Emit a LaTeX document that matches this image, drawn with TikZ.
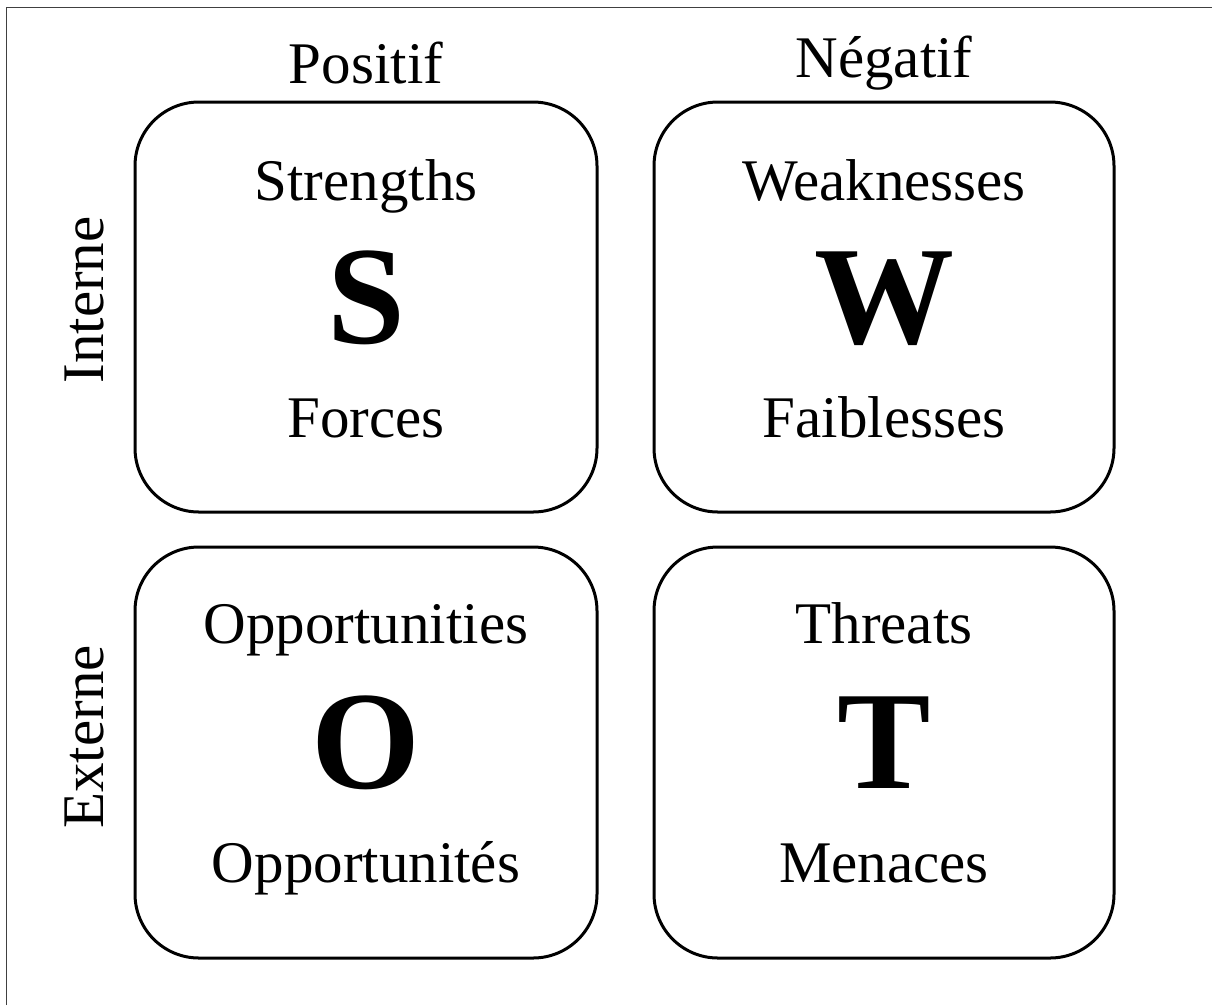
\documentclass[tikz,border=0pt]{standalone}
\usepackage{fontspec}
\setmainfont{Liberation Serif}
\begin{document}
\begin{tikzpicture}[x=1pt,y=-1pt,
  quad/.style={draw=black,line width=3pt,rounded corners=64pt},
  lbl/.style={anchor=base,inner sep=0pt,font=\fontsize{59}{70}\selectfont},
  big/.style={anchor=base,inner sep=0pt,font=\fontsize{140}{160}\selectfont\bfseries}]
\useasboundingbox (0,0) rectangle (1212,1005);
\fill[white] (0,0) rectangle (1212,1005);
\draw[line width=1.5pt,black!75] (6.5,1005) -- (6.5,7.5) -- (1212,7.5);
% boxes
\draw[quad] (135,102) rectangle (597,512);
\draw[quad] (654,102) rectangle (1114,512);
\draw[quad] (135,547) rectangle (597,958);
\draw[quad] (654,547) rectangle (1114,958);
% headers
\node[lbl] (pos) at (366,83) {Positif};
\node[lbl] (neg) at (884,77) {Négatif};
\node[lbl,rotate=90] (int) at (103,300) {Interne};
\node[lbl,rotate=90] (ext) at (103,737) {Externe};
% S
\node[lbl] (s1) at (366,200) {Strengths};
\node[big] (s2) at (366,343) {S};
\node[lbl] (s3) at (366,437) {Forces};
% W
\node[lbl] (w1) at (884,200) {Weaknesses};
\node[big] (w2) at (884,343) {W};
\node[lbl] (w3) at (884,437) {Faiblesses};
% O
\node[lbl] (o1) at (366,643) {Opportunities};
\node[big] (o2) at (366,788) {O};
\node[lbl] (o3) at (366,882) {Opportunités};
% T
\node[lbl] (t1) at (884,643) {Threats};
\node[big] (t2) at (884,788) {T};
\node[lbl] (t3) at (884,882) {Menaces};
\end{tikzpicture}
\end{document}
